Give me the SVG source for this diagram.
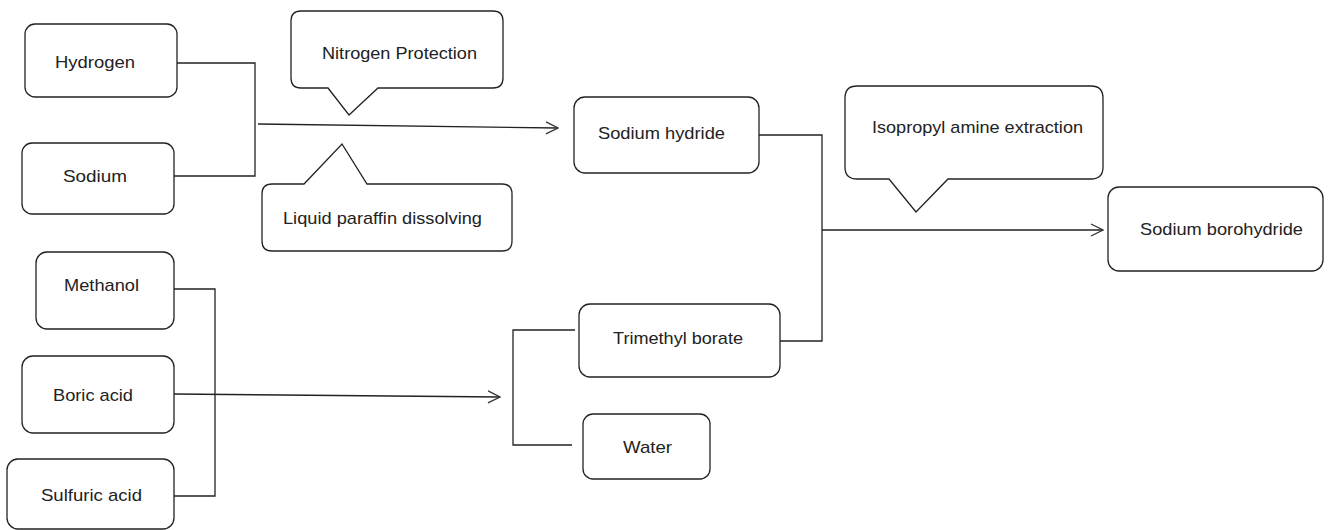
<svg xmlns="http://www.w3.org/2000/svg" width="1333" height="530" viewBox="0 0 1333 530">
<style>
.box{fill:#fff;stroke:#222;stroke-width:1.3}
.call{fill:#fff;stroke:#222;stroke-width:1.3;stroke-linejoin:miter}
.ln{fill:none;stroke:#222;stroke-width:1.3}
.t{font-family:"Liberation Sans",Arial,sans-serif;font-size:17px;fill:#222}
</style>
<defs>
<marker id="ar" viewBox="0 0 14 14" refX="13" refY="7" markerWidth="14" markerHeight="14" markerUnits="userSpaceOnUse" orient="auto">
<path d="M1,1 L13,7 L1,13" fill="none" stroke="#333" stroke-width="1.3"/>
</marker>
</defs>
<rect width="1333" height="530" fill="#fff"/>
<g id="connectors">
<path class="ln" d="M177,63 H255 V176 H174"/>
<path class="ln" d="M258,124 L558,128" marker-end="url(#ar)"/>
<path class="ln" d="M759,135 H822 V341 H780"/>
<path class="ln" d="M822,230 H1103" marker-end="url(#ar)"/>
<path class="ln" d="M174,289 H215 V496 H174"/>
<path class="ln" d="M174,394 L500,397" marker-end="url(#ar)"/>
<path class="ln" d="M575,330 H513 V445 H572"/>
</g>
<g id="hydrogen"><rect class="box" x="25" y="24" width="152" height="73" rx="10"/><text class="t" x="55" y="68" textLength="80" lengthAdjust="spacingAndGlyphs">Hydrogen</text></g>
<g id="sodium"><rect class="box" x="22" y="143" width="152" height="71" rx="10"/><text class="t" x="63" y="182" textLength="64" lengthAdjust="spacingAndGlyphs">Sodium</text></g>
<g id="nitrogen"><path class="call" d="M301,11 H493 Q503,11 503,21 V78 Q503,88 493,88 H378 L349,115 L328,88 H301 Q291,88 291,78 V21 Q291,11 301,11 Z"/><text class="t" x="322" y="59" textLength="155" lengthAdjust="spacingAndGlyphs">Nitrogen Protection</text></g>
<g id="paraffin"><path class="call" d="M272,184 H304 L342,144 L367,184 H502 Q512,184 512,194 V241 Q512,251 502,251 H272 Q262,251 262,241 V194 Q262,184 272,184 Z"/><text class="t" x="283" y="224" textLength="199" lengthAdjust="spacingAndGlyphs">Liquid paraffin dissolving</text></g>
<g id="sodium-hydride"><rect class="box" x="574" y="97" width="185" height="76" rx="11"/><text class="t" x="598" y="139" textLength="127" lengthAdjust="spacingAndGlyphs">Sodium hydride</text></g>
<g id="isopropyl"><path class="call" d="M857,86 H1091 Q1103,86 1103,98 V167 Q1103,179 1091,179 H948 L916,212 L889,179 H857 Q845,179 845,167 V98 Q845,86 857,86 Z"/><text class="t" x="872" y="133" textLength="211" lengthAdjust="spacingAndGlyphs">Isopropyl amine extraction</text></g>
<g id="sodium-borohydride"><rect class="box" x="1108" y="187" width="215" height="84" rx="11"/><text class="t" x="1140" y="235" textLength="163" lengthAdjust="spacingAndGlyphs">Sodium borohydride</text></g>
<g id="methanol"><rect class="box" x="36" y="252" width="138" height="77" rx="11"/><text class="t" x="64" y="291" textLength="75" lengthAdjust="spacingAndGlyphs">Methanol</text></g>
<g id="boric-acid"><rect class="box" x="22" y="356" width="152" height="77" rx="11"/><text class="t" x="53" y="401" textLength="80" lengthAdjust="spacingAndGlyphs">Boric acid</text></g>
<g id="sulfuric-acid"><rect class="box" x="7" y="459" width="167" height="70" rx="11"/><text class="t" x="41" y="501" textLength="101" lengthAdjust="spacingAndGlyphs">Sulfuric acid</text></g>
<g id="trimethyl-borate"><rect class="box" x="579" y="304" width="201" height="73" rx="11"/><text class="t" x="613" y="344" textLength="130" lengthAdjust="spacingAndGlyphs">Trimethyl borate</text></g>
<g id="water"><rect class="box" x="583" y="414" width="127" height="65" rx="10"/><text class="t" x="623" y="453" textLength="49" lengthAdjust="spacingAndGlyphs">Water</text></g>
</svg>
